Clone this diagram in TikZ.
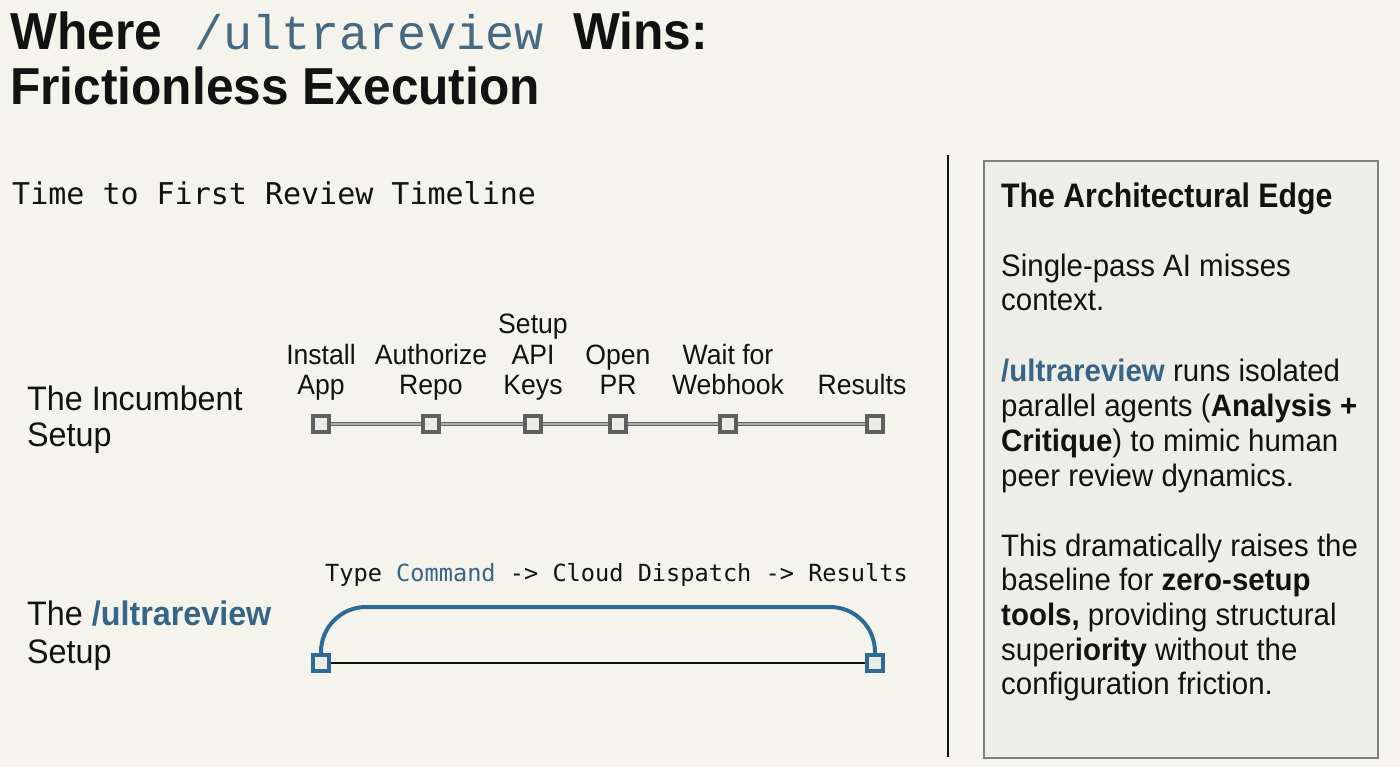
\documentclass[tikz,border=0pt]{standalone}
\usepackage{fontspec}
\setmainfont{Liberation Sans}
\setmonofont{Liberation Mono}
\newfontfamily\dmono{DejaVu Sans Mono}
\newfontfamily\bodyf{Liberation Sans}[FakeStretch=0.95]
\newfontfamily\headf{Liberation Sans}[FakeStretch=0.89]
\newfontfamily\titlef{Liberation Sans}[FakeStretch=0.955]
\definecolor{bg}{RGB}{244,244,237}
\definecolor{boxfill}{RGB}{238,238,232}
\definecolor{boxdraw}{RGB}{128,128,128}
\definecolor{tlgray}{RGB}{95,95,95}
\definecolor{dbl}{RGB}{175,175,170}
\definecolor{sqfill}{RGB}{236,236,230}
\definecolor{ublue}{RGB}{46,106,150}
\definecolor{tblue}{RGB}{55,100,135}
\definecolor{ttblue}{RGB}{70,105,132}
\definecolor{ink}{RGB}{18,18,18}
\begin{document}
\begin{tikzpicture}[x=1pt,y=-1pt,
  txt/.style={inner sep=0pt, anchor=base west, text=ink},
  body/.style={txt, font=\bodyf\fontsize{31}{35}\selectfont},
  side/.style={txt, font=\bodyf\fontsize{34}{37}\selectfont},
  lbl/.style={inner sep=0pt, anchor=base, text=ink, font=\bodyf\fontsize{28}{30}\selectfont},
  tlsq/.style={draw=tlgray, line width=3.5pt, fill=sqfill, minimum size=16pt, inner sep=0pt},
  blsq/.style={draw=ublue, line width=3.5pt, fill=sqfill, minimum size=16pt, inner sep=0pt},
  tlline/.style={draw=tlgray, line width=1.6pt, double=dbl, double distance=1.4pt},
  arcline/.style={draw=ublue, line width=4pt},
  flatline/.style={draw=ink, line width=1.5pt}
]
\fill[bg] (0,0) rectangle (1400,767);
\useasboundingbox (0,0) rectangle (1400,767);

% title
\node[txt, font=\titlef\bfseries\fontsize{52}{56}\selectfont] (t1) at (10,50) {Where};
\node[txt, font=\ttfamily\fontsize{48.5}{52}\selectfont, text=ttblue] (t2) at (194,50) {/ultrareview};
\node[txt, font=\titlef\bfseries\fontsize{52}{56}\selectfont] (t3) at (573,50) {Wins:};
\node[txt, font=\titlef\bfseries\fontsize{52}{56}\selectfont] (t4) at (10,105) {Frictionless Execution};

% subtitle
\node[txt, font=\dmono\fontsize{30}{32}\selectfont] (sub) at (12,205) {Time to First Review Timeline};

% divider
\coordinate (dvt) at (948,155);
\coordinate (dvb) at (948,757);
\draw[ink, line width=2pt] (dvt) -- (dvb);

% right box
\node[draw=boxdraw, fill=boxfill, line width=2pt, minimum width=394pt, minimum height=597pt, inner sep=0pt, anchor=north west] (box) at (983,160) {};

\node[txt, font=\headf\bfseries\fontsize{34}{37}\selectfont] (h) at (1001,208) {The Architectural Edge};
\node[body] (r1) at (1001,277) {Single-pass AI misses};
\node[body] (r2) at (1001,311) {context.};
\node[body] (r3) at (1001,381) {\textcolor{tblue}{\bfseries/ultrareview} runs isolated};
\node[body] (r4) at (1001,416) {parallel agents (\textbf{Analysis +}};
\node[body] (r5) at (1001,451) {\textbf{Critique}) to mimic human};
\node[body] (r6) at (1001,486) {peer review dynamics.};
\node[body] (r7) at (1001,556) {This dramatically raises the};
\node[body] (r8) at (1001,590) {baseline for \textbf{zero-setup}};
\node[body] (r9) at (1001,625) {\textbf{tools,} providing structural};
\node[body] (r10) at (1001,660) {super\textbf{iority} without the};
\node[body] (r11) at (1001,694) {configuration friction.};

% left labels
\node[side] (inc1) at (27,410) {The Incumbent};
\node[side] (inc2) at (27,446) {Setup};
\node[side] (ur1) at (27,625) {The \textcolor{tblue}{\bfseries/ultrareview}};
\node[side] (ur2) at (27,663) {Setup};

% timeline labels
\node[lbl] (a1) at (321,364) {Install};
\node[lbl] (a2) at (321,394) {App};
\node[lbl] (b1l) at (431,364) {Authorize};
\node[lbl] (b2l) at (431,394) {Repo};
\node[lbl] (c0) at (533,334) {Setup};
\node[lbl] (c1) at (533,364) {API};
\node[lbl] (c2) at (533,394) {Keys};
\node[lbl] (d1) at (618,364) {Open};
\node[lbl] (d2) at (618,394) {PR};
\node[lbl] (e1) at (728,364) {Wait for};
\node[lbl] (e2) at (728,394) {Webhook};
\node[lbl] (f1) at (862,394) {Results};

% incumbent timeline
\node[tlsq] (s1) at (321,424) {};
\node[tlsq] (s2) at (431,424) {};
\node[tlsq] (s3) at (533,424) {};
\node[tlsq] (s4) at (618,424) {};
\node[tlsq] (s5) at (728,424) {};
\node[tlsq] (s6) at (875,424) {};
\draw[tlline] (s1) -- (s2);
\draw[tlline] (s2) -- (s3);
\draw[tlline] (s3) -- (s4);
\draw[tlline] (s4) -- (s5);
\draw[tlline] (s5) -- (s6);

% ultrareview timeline
\node[txt, font=\dmono\fontsize{23.6}{26}\selectfont] (cap) at (325,581) {Type \textcolor{tblue}{Command} -> Cloud Dispatch -> Results};
\node[blsq] (u1) at (321,663) {};
\node[blsq] (u2) at (875,663) {};
\coordinate (arctop) at (598,607);
\draw[flatline] (u1) -- (u2);
\draw[arcline, rounded corners=45pt] (u1.north) |- (arctop) -| (u2.north);
\end{tikzpicture}
\end{document}
